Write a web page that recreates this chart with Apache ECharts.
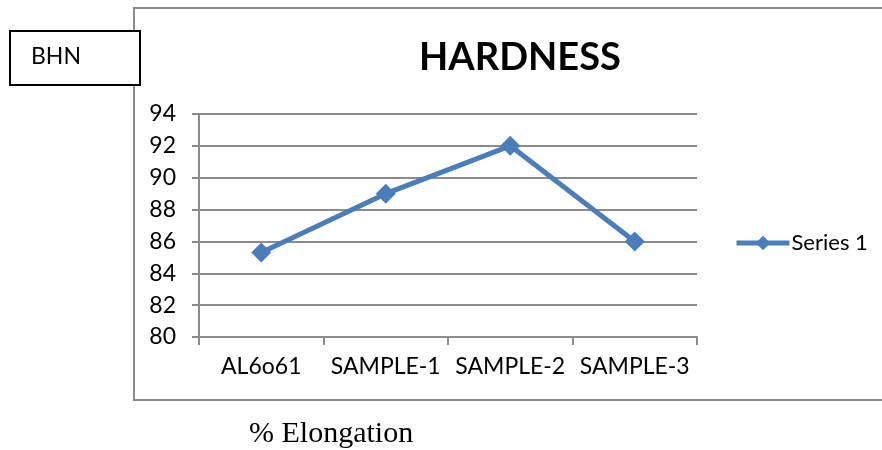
<!DOCTYPE html>
<html>
<head>
<meta charset="utf-8">
<style>
  html, body { margin: 0; padding: 0; background: #fff; }
  #chart { width: 882px; height: 450px; }
</style>
<script src="https://cdn.jsdelivr.net/npm/echarts@6/dist/echarts.min.js"></script>
</head>
<body>
<div id="chart"></div>
<script>
// Brinell hardness by sample
const categories = ['AL6o61', 'SAMPLE-1', 'SAMPLE-2', 'SAMPLE-3'];
const hardness = [85.3, 89, 92, 86];
const seriesName = 'Series 1';
const yTicks = { min: 80, max: 94, step: 2 };

const BLUE = '#4a7ebb';
const GRID_GRAY = '#8c8c8c';
const SANS = 'Lato, "Open Sans", sans-serif';

const chart = echarts.init(document.getElementById('chart'));
chart.setOption({
  animation: false,
  backgroundColor: '#fff',
  title: {
    text: 'HARDNESS',
    left: 515,
    top: 34,
    textAlign: 'center',
    textStyle: { fontFamily: SANS, fontSize: 38, fontWeight: 'bold', color: '#000' }
  },
  legend: {
    data: [{ name: seriesName, itemStyle: { color: BLUE }, lineStyle: { color: BLUE, width: 5 } }],
    left: 734,
    top: 232,
    padding: 0,
    itemWidth: 53,
    itemHeight: 18,
    itemGap: 4,
    textStyle: { fontFamily: SANS, fontSize: 22, color: '#000', padding: [0, 0, 0, -3] }
  },
  grid: { left: 199, right: 185, top: 114, bottom: 113, containLabel: false },
  xAxis: {
    type: 'category',
    data: categories,
    boundaryGap: true,
    axisLine: { lineStyle: { color: GRID_GRAY, width: 2 } },
    axisTick: { show: true, length: 8, alignWithLabel: false, lineStyle: { color: GRID_GRAY, width: 2 } },
    axisLabel: { interval: 0, margin: 18, fontFamily: SANS, fontSize: 23, color: '#000' }
  },
  yAxis: {
    type: 'value',
    min: yTicks.min,
    max: yTicks.max,
    interval: yTicks.step,
    axisLine: { show: true, lineStyle: { color: GRID_GRAY, width: 2 } },
    axisTick: { show: true, length: 7, lineStyle: { color: GRID_GRAY, width: 2 } },
    splitLine: { show: true, lineStyle: { color: GRID_GRAY, width: 2 } },
    axisLabel: { margin: 23, fontFamily: SANS, fontSize: 23, color: '#000' }
  },
  series: [{
    name: seriesName,
    type: 'line',
    data: hardness,
    symbol: 'diamond',
    symbolSize: 20,
    lineStyle: { color: BLUE, width: 5 },
    itemStyle: { color: BLUE },
    z: 5
  }],
  graphic: [
    {
      type: 'rect',
      shape: { x: 134, y: 8, width: 800, height: 392 },
      style: { fill: 'none', stroke: GRID_GRAY, lineWidth: 2 },
      z: -1
    },
    {
      type: 'rect',
      shape: { x: 10, y: 31, width: 130, height: 54 },
      style: { fill: '#fff', stroke: '#000', lineWidth: 2 },
      z: 10
    },
    {
      type: 'text',
      left: 31,
      top: 45,
      style: { text: 'BHN', fontFamily: SANS, fontSize: 23, fill: '#000' },
      z: 11
    },
    {
      type: 'text',
      left: 249,
      top: 419,
      style: { text: '% Elongation', fontFamily: '"Liberation Serif", "Times New Roman", serif', fontSize: 30, fill: '#000' }
    }
  ]
});
</script>
</body>
</html>
